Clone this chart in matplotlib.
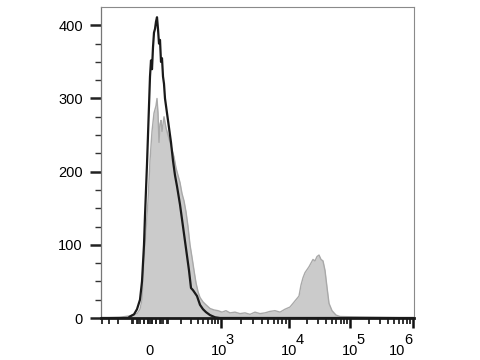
import numpy as np
import matplotlib.pyplot as plt

plt.rcParams['font.family'] = ['Liberation Sans', 'DejaVu Sans']

# histogram data, x in display channels (0 = left edge of plot, 313 = right edge)
gray_ch = [0, 19, 24, 29, 33, 36, 39, 41, 42, 43, 45, 47, 49, 51, 53, 55, 56, 57, 58, 59,
           60, 61, 63, 65, 67, 69, 71, 73, 75, 77, 79, 81, 83, 85, 87, 89, 91, 93, 95, 97,
           99, 102, 105, 109, 113, 117, 121, 125, 129, 134, 139, 144, 149, 154, 159, 164,
           169, 174, 179, 184, 189, 192, 195, 198, 200, 202, 204, 206, 208, 210, 212, 214,
           216, 218, 220, 222, 224, 226, 228, 231, 235, 239, 313]
gray_counts = [0, 1, 2, 3, 5, 6, 12, 25, 55, 80, 120, 160, 215, 255, 280, 290, 300, 280, 240, 265,
               270, 255, 275, 260, 250, 240, 230, 220, 205, 195, 185, 170, 160, 145, 125, 100,
               83, 65, 48, 36, 28, 22, 18, 13, 11, 10, 8, 10, 7, 8, 6, 7, 5, 8, 6, 7,
               9, 10, 8, 12, 15, 20, 25, 30, 45, 55, 62, 66, 70, 75, 80, 78, 84,
               86, 80, 78, 65, 42, 20, 10, 4, 2, 0]

black_ch = [0, 27, 29, 33, 36, 39, 41, 43, 44, 45, 46, 47, 48, 49, 50, 51, 52, 53, 54, 55,
            56, 57, 58, 59, 60, 61, 62, 63, 64, 66, 68, 70, 72, 74, 76, 79, 82, 84, 86, 88,
            90, 92, 94, 96, 99, 102, 105, 109, 114, 119, 313]
black_counts = [0, 0, 2, 5, 12, 25, 50, 100, 140, 175, 210, 250, 290, 330, 352, 340, 370, 390, 395, 405,
                411, 395, 375, 380, 350, 355, 330, 320, 300, 280, 260, 240, 215, 195, 180, 155, 125, 105, 85, 65,
                41, 38, 34, 30, 18, 12, 8, 4, 1, 0, 0]

# axis anchors: value -> channel (biexponential-like display)
anchor_vals = [-1000, 0, 1e3, 1e4, 1e5, 1e6]
anchor_ch = [-23, 49, 120, 188, 249, 312]
C = 132.0


def to_ch(v):
    return np.interp(np.arcsinh(np.asarray(v, float) / C), np.arcsinh(np.array(anchor_vals) / C), anchor_ch)


fig = plt.figure(figsize=(4.8, 3.6), dpi=100)
ax = fig.add_axes([101 / 480, 1 - 318 / 360, 313 / 480, 311 / 360])

ax.fill_between(gray_ch, gray_counts, 0, color='#cbcbcb', lw=0, zorder=1)
ax.plot(gray_ch, gray_counts, color='#a9a9a9', lw=1.0, zorder=2)
ax.plot(black_ch, black_counts, color='#1a1a1a', lw=1.6, zorder=3)

ax.set_xlim(0, 313)
ax.set_ylim(0, 425)

# y axis
ax.set_yticks([0, 100, 200, 300, 400])
ax.set_yticks(np.arange(0, 425, 25), minor=True)
ax.tick_params(axis='y', which='major', direction='out', length=8, width=1.8, color='#222222',
               labelsize=10.5, pad=5)
ax.tick_params(axis='y', which='minor', direction='out', length=4, width=1.0, color='#333333')

# x axis ticks
major_vals = [1e3, 1e4, 1e5, 1e6]
minor_vals = [-400, -300, -200, -100] + list(range(-90, 0, 20)) + list(range(10, 100, 20)) + \
             [k * 10 ** e for e in (2, 3, 4, 5) for k in range(1, 10)]
minor_vals = [v for v in minor_vals if v not in major_vals]
zero_cluster = [-60, -30, -10, 0, 10, 30, 60]
ax.set_xticks(to_ch(major_vals))
ax.set_xticks(np.concatenate([to_ch(minor_vals), to_ch(zero_cluster)]), minor=True)
ax.set_xticklabels([])
ax.tick_params(axis='x', which='major', direction='out', length=7, width=1.8, color='#111111')
ax.tick_params(axis='x', which='minor', direction='out', length=4, width=1.3, color='#222222')

# x tick labels: base "10" plus raised exponent
trans = ax.get_xaxis_transform()
ax.text(to_ch(0), -0.105, '0', transform=trans, ha='center', va='center', fontsize=10.5)
label_ch = [118, 188, 249, 296]
exps = ['3', '4', '5', '6']
for lc, e in zip(label_ch, exps):
    ax.text(lc, -0.105, '10', transform=trans, ha='center', va='center', fontsize=10.5, clip_on=False)
    ax.text(lc + 11, -0.07, e, transform=trans, ha='center', va='center', fontsize=10.5, clip_on=False)

for s in ('top', 'right'):
    ax.spines[s].set_color('#8a8a8a')
    ax.spines[s].set_linewidth(0.8)
ax.spines['left'].set_color('#777777')
ax.spines['left'].set_linewidth(0.9)
ax.spines['bottom'].set_color('#1a1a1a')
ax.spines['bottom'].set_linewidth(2.0)

fig.savefig('out.png', dpi=100)
